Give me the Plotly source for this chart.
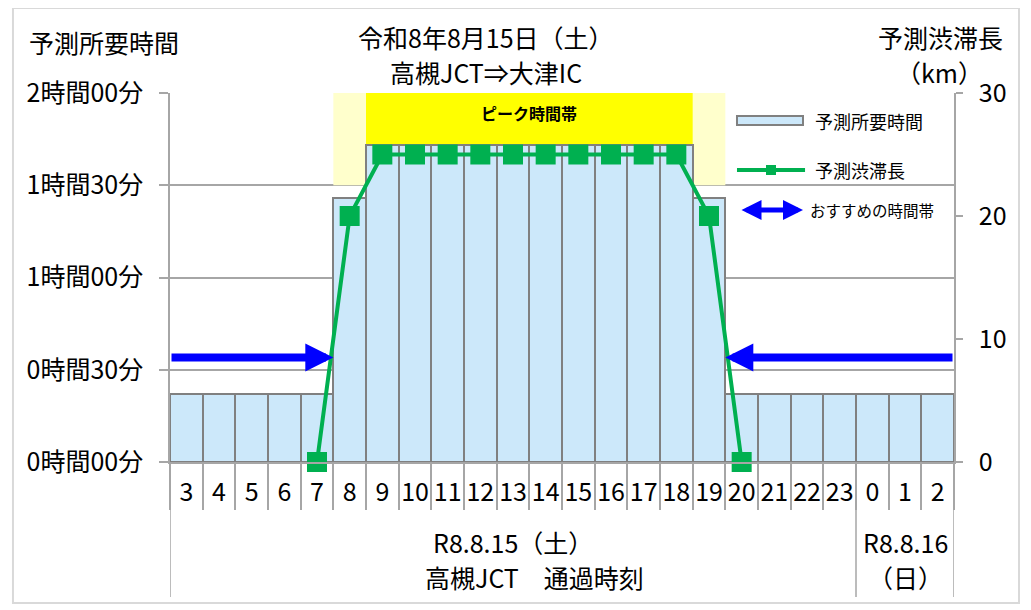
import plotly.graph_objects as go

# 通過時刻 (3時〜翌2時)
hours = ["3", "4", "5", "6", "7", "8", "9", "10", "11", "12", "13", "14",
         "15", "16", "17", "18", "19", "20", "21", "22", "23", "0", "1", "2"]
# 予測所要時間 (分)
travel_min = [22, 22, 22, 22, 22, 86, 103, 103, 103, 103, 103, 103,
              103, 103, 103, 103, 86, 22, 22, 22, 22, 22, 22, 22]
# 予測渋滞長 (km)
jam_km = [None, None, None, None, 0, 20, 25, 25, 25, 25, 25, 25,
          25, 25, 25, 25, 20, 0, None, None, None, None, None, None]

y_ticks = [0, 30, 60, 90, 120]
y_labels = ["0時間00分", "0時間30分", "1時間00分", "1時間30分", "2時間00分"]

FONT = "Noto Sans CJK JP"
GRID = "#a6a6a6"
BAR_FILL = "#cce8fa"
BAR_LINE = "#808080"
GREEN = "#00b050"
BLUE = "#0000ff"

fig = go.Figure()

fig.add_trace(go.Bar(x=hours, y=travel_min, name="予測所要時間",
                     marker=dict(color=BAR_FILL, line=dict(color=BAR_LINE, width=2)),
                     showlegend=False))

fig.add_trace(go.Scatter(x=hours, y=jam_km, name="予測渋滞長", yaxis="y2",
                         mode="lines+markers", cliponaxis=False,
                         line=dict(color=GREEN, width=4),
                         marker=dict(symbol="square", size=20, color=GREEN),
                         showlegend=False))

shapes = []
# ピーク時間帯の背景
shapes.append(dict(type="rect", xref="x", yref="y", x0=4.5, x1=16.5, y0=90, y1=120,
                   fillcolor="#ffffcc", line=dict(width=0), layer="between"))
shapes.append(dict(type="rect", xref="x", yref="y", x0=5.5, x1=15.5, y0=90, y1=120,
                   fillcolor="#ffff00", line=dict(width=0), layer="between"))
# 凡例の白地
shapes.append(dict(type="rect", xref="x", yref="paper", x0=16.5, x1=23.15, y0=0.501, y1=1,
                   fillcolor="white", line=dict(width=0), layer="between"))

# 日付の区切り線
for b in [-0.5, 20.5, 23.5]:
    shapes.append(dict(type="line", xref="x", yref="paper", x0=b, x1=b, y0=0, y1=-0.366,
                       line=dict(color=GRID, width=1.5)))

# 凡例
shapes.append(dict(type="rect", xref="paper", yref="paper", x0=0.7232, x1=0.8074,
                   y0=0.9133, y1=0.9377, fillcolor=BAR_FILL,
                   line=dict(color=BAR_LINE, width=2)))
shapes.append(dict(type="line", xref="paper", yref="paper", x0=0.7232, x1=0.81,
                   y0=0.7913, y1=0.7913, line=dict(color=GREEN, width=4)))
shapes.append(dict(type="rect", xref="paper", yref="paper", xsizemode="pixel",
                   ysizemode="pixel", xanchor=0.7666, yanchor=0.7913,
                   x0=-5, x1=5, y0=-5, y1=5, fillcolor=GREEN, line=dict(width=0)))

# 外枠
shapes.append(dict(type="rect", xref="paper", yref="paper", x0=-0.2003, x1=1.0829,
                   y0=-0.382, y1=1.2304, line=dict(color="#d9d9d9", width=2)))

ann = []
def text(s, x, y, size=25, xanchor="center", xref="paper", bold=False):
    ann.append(dict(text=f"<b>{s}</b>" if bold else s, x=x, y=y, xref=xref, yref="paper",
                    xanchor=xanchor, yanchor="middle", showarrow=False,
                    font=dict(size=size, color="black", family=FONT)))

text("令和8年8月15日（土）", 0.403, 1.152)
text("高槻JCT⇒大津IC", 0.403, 1.057)
text("予測所要時間", -0.1824, 1.138, xanchor="left")
text("予測渋滞長", 1.065, 1.152, xanchor="right")
text("（km）", 0.982, 1.057)
text("R8.8.15（土）", 0.4375, -0.217)
text("高槻JCT　通過時刻", 0.4643, -0.312)
text("R8.8.16", 0.9375, -0.217)
text("（日）", 0.9375, -0.312)
text("ピーク時間帯", 10.5, 0.9458, size=16, xref="x", bold=True)
text("予測所要時間", 0.8202, 0.9241, size=18, xanchor="left")
text("予測渋滞長", 0.8202, 0.7913, size=18, xanchor="left")
text("おすすめの時間帯", 0.8138, 0.6829, size=15.5, xanchor="left")

# おすすめの時間帯 (矢印)
arrow_level = 34
for tail, tip in [(-0.5, 4.5), (23.5, 16.5)]:
    ann.append(dict(text="", x=tip, y=arrow_level, xref="x", yref="y",
                    ax=tail, ay=arrow_level, axref="x", ayref="y",
                    showarrow=True, arrowhead=2, arrowsize=0.7, arrowwidth=8,
                    arrowcolor=BLUE, standoff=0))
ann.append(dict(text="", x=0.8074, y=0.6829, xref="paper", yref="paper",
                ax=-63, ay=0, showarrow=True, arrowside="end+start",
                arrowhead=2, startarrowhead=2, arrowsize=0.8, startarrowsize=0.8,
                arrowwidth=5, arrowcolor=BLUE, standoff=0, startstandoff=0))

fig.update_layout(
    width=1031, height=610,
    margin=dict(l=162, r=85, t=85, b=156),
    paper_bgcolor="white", plot_bgcolor="white",
    bargap=0,
    font=dict(family=FONT, size=25, color="black"),
    shapes=shapes, annotations=ann,
    xaxis=dict(type="category", range=[-0.5, 23.5], showgrid=False, showline=True,
               linecolor=GRID, linewidth=1.5,
               ticks="outside", tickson="boundaries", ticklen=46, tickcolor=GRID,
               tickwidth=1.5, tickangle=0, ticklabelstandoff=7, tickfont=dict(size=25)),
    yaxis=dict(range=[0, 120], tickvals=y_ticks, ticktext=y_labels, showline=True,
               linecolor=GRID, linewidth=1.5, gridcolor=GRID, gridwidth=1.5,
               ticks="outside", ticklen=9, tickcolor=GRID, tickwidth=1.5,
               ticklabelstandoff=11, zeroline=False, tickfont=dict(size=25)),
    yaxis2=dict(range=[0, 30], dtick=10, overlaying="y", side="right", showgrid=False,
                showline=True, linecolor=GRID, linewidth=1.5, ticks="outside",
                ticklen=7, tickcolor=GRID, tickwidth=1.5, ticklabelstandoff=11,
                zeroline=False, tickfont=dict(size=25)),
)

fig.write_html("out.html")
